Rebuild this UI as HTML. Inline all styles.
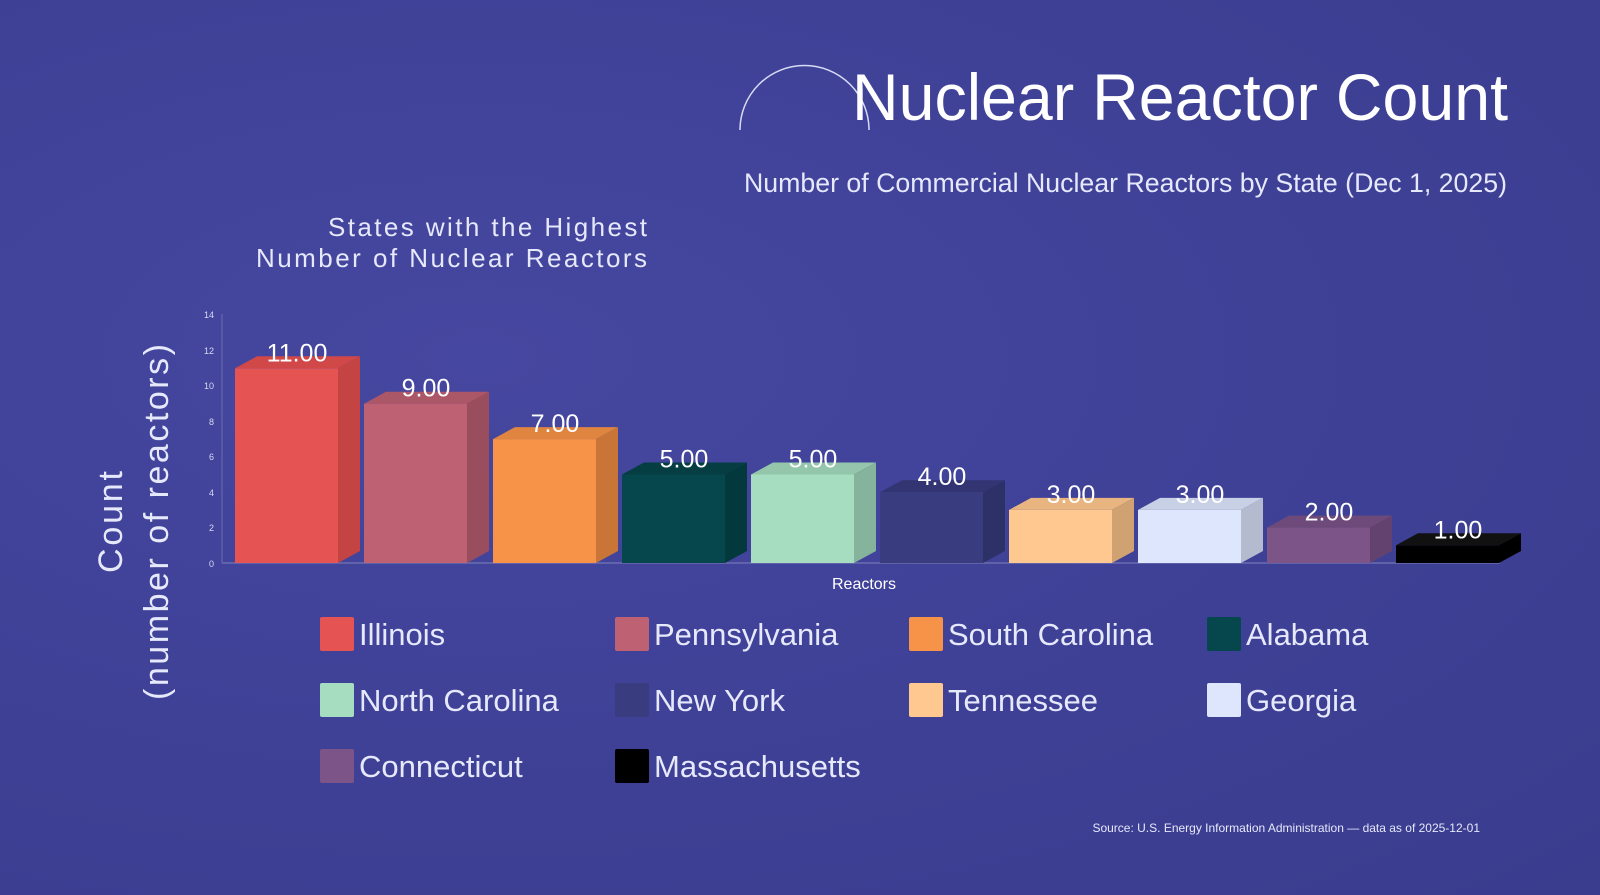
<!DOCTYPE html>
<html><head><meta charset="utf-8"><style>
html,body{margin:0;padding:0}
body{width:1600px;height:895px;overflow:hidden;background:radial-gradient(ellipse at 30% 40%,#4647a0 0%,#3f4197 50%,#3a3c8e 100%);font-family:"Liberation Sans",sans-serif;position:relative;color:#fff}
</style></head><body>
<svg width="1600" height="895" style="position:absolute;left:0;top:0">
<path d="M740 130 A64 64 0 0 1 869 130" fill="none" stroke="#d8dbf5" stroke-width="1.5"/>
<text x="852" y="120" textLength="656" lengthAdjust="spacingAndGlyphs" font-size="66" fill="#fff" font-family="Liberation Sans, sans-serif">Nuclear Reactor Count</text>
<text x="744" y="192" textLength="763" lengthAdjust="spacingAndGlyphs" font-size="27" fill="#e6e8fb" font-family="Liberation Sans, sans-serif">Number of Commercial Nuclear Reactors by State (Dec 1, 2025)</text>
<text x="328" y="236" textLength="319" font-size="26" fill="#e6e8fb" font-family="Liberation Sans, sans-serif">States with the Highest</text>
<text x="256" y="267" textLength="391" font-size="26" fill="#e6e8fb" font-family="Liberation Sans, sans-serif">Number of Nuclear Reactors</text>
<g transform="translate(122,522) rotate(-90)"><text x="0" y="0" text-anchor="middle" font-size="34" fill="#e6e8fb" font-family="Liberation Sans, sans-serif" textLength="102">Count</text></g>
<g transform="translate(168,522) rotate(-90)"><text x="0" y="0" text-anchor="middle" font-size="34" fill="#e6e8fb" font-family="Liberation Sans, sans-serif" textLength="356">(number of reactors)</text></g>
<line x1="222" y1="314" x2="222" y2="563" stroke="#6a6cb0" stroke-width="1"/>
<line x1="222" y1="563" x2="1500" y2="563" stroke="#6a6cb0" stroke-width="1.5"/>
<g font-size="9" fill="#d8dbf5" text-anchor="end" font-family="Liberation Sans, sans-serif">
<text x="214" y="318">14</text><text x="214" y="354">12</text><text x="214" y="389">10</text><text x="214" y="425">8</text><text x="214" y="460">6</text><text x="214" y="496">4</text><text x="214" y="531">2</text><text x="214" y="567">0</text>
</g>
<g id="bars"></g>
<text x="864" y="589" text-anchor="middle" font-size="16" fill="#fff" font-family="Liberation Sans, sans-serif">Reactors</text>
<text x="1480" y="832" text-anchor="end" font-size="12" fill="#e6e8fb" font-family="Liberation Sans, sans-serif">Source: U.S. Energy Information Administration — data as of 2025-12-01</text>
<g id="leg"></g>
</svg>
<script>
var d=[["Illinois",11,"#e55353","#c44444","#d04848"],["Pennsylvania",9,"#be6173","#9a4e5d","#ac5768"],["South Carolina",7,"#f69348","#c97537","#e08540"],["Alabama",5,"#05474c","#03383c","#043e42"],["North Carolina",5,"#a6dcc0","#86b39b","#94c6ac"],["New York",4,"#393c7f","#2e3068","#333572"],["Tennessee",3,"#ffc890","#d0a171","#e8b480"],["Georgia",3,"#dde6fd","#b4bbcf","#c8d0e6"],["Connecticut",2,"#7c5487","#634270","#6e4a7a"],["Massachusetts",1,"#000000","#000000","#111111"]];
var ns="http://www.w3.org/2000/svg",g=document.getElementById("bars"),L=document.getElementById("leg");
function el(p,t,a,tx){var e=document.createElementNS(ns,t);for(var k in a)e.setAttribute(k,a[k]);if(tx)e.textContent=tx;p.appendChild(e);return e;}
var u=17.7,base=563,w=103,dx=22,dy=12;
d.forEach(function(r,i){var x=235+i*129,h=r[1]*u,t=base-h;
el(g,"polygon",{points:(x)+","+t+" "+(x+dx)+","+(t-dy)+" "+(x+w+dx)+","+(t-dy)+" "+(x+w)+","+t,fill:r[4]});
el(g,"polygon",{points:(x+w)+","+t+" "+(x+w+dx)+","+(t-dy)+" "+(x+w+dx)+","+(base-dy)+" "+(x+w)+","+base,fill:r[3]});
el(g,"rect",{x:x,y:t,width:w,height:h,fill:r[2]});
el(g,"text",{x:x+62,y:t-7,"text-anchor":"middle","font-size":"25","fill":"#fff","font-family":"Liberation Sans, sans-serif"},r[1].toFixed(2));
var cx=[320,615,909,1207][i%4],cy=[634,700,766][Math.floor(i/4)];
el(L,"rect",{x:cx,y:cy-17,width:34,height:34,rx:2,fill:r[2]});
el(L,"text",{x:cx+39,y:cy+11,"font-size":"31","fill":"#e6e8fb","font-family":"Liberation Sans, sans-serif"},r[0]);
});
</script>
</body></html>
